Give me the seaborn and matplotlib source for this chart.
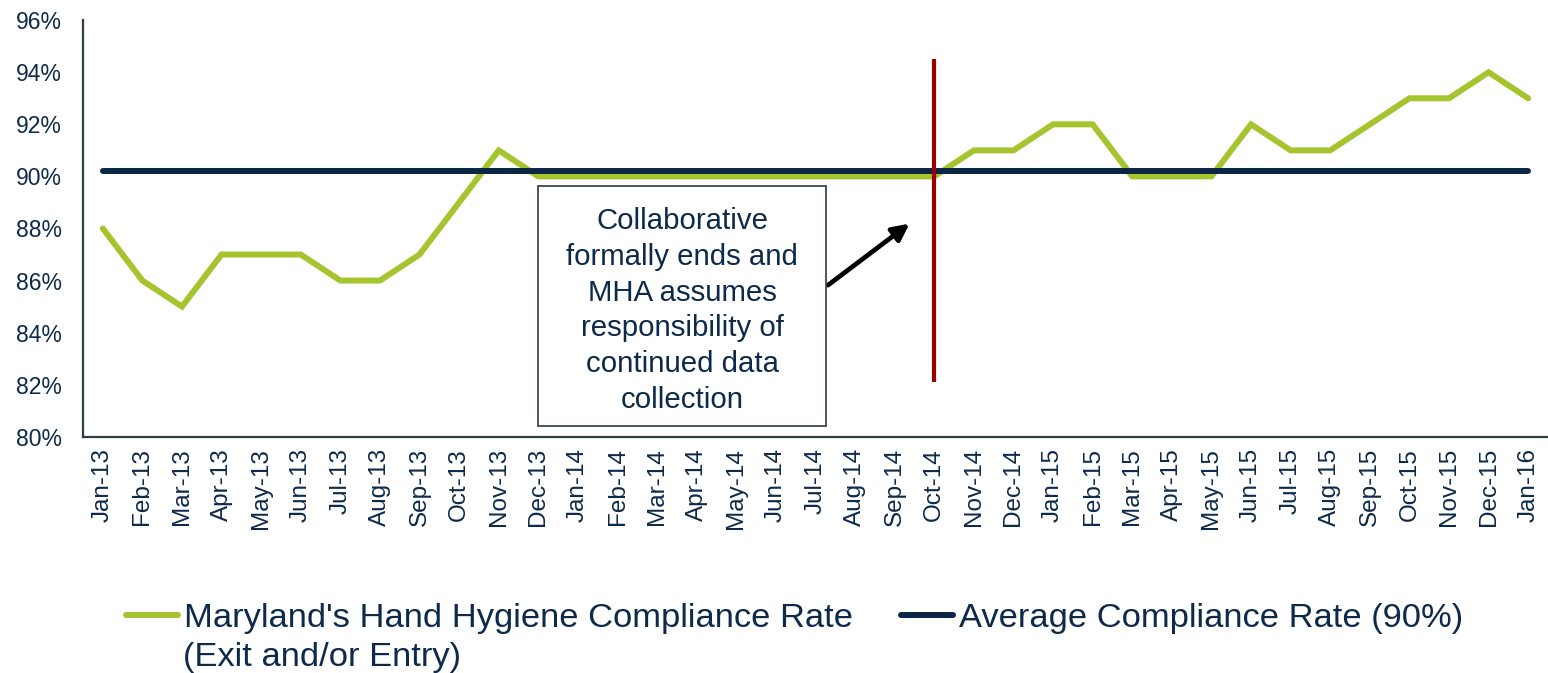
import numpy as np
import pandas as pd
import matplotlib
matplotlib.use('Agg')
import matplotlib.pyplot as plt
import seaborn as sns
from matplotlib.patches import Rectangle

months = ['Jan-13', 'Feb-13', 'Mar-13', 'Apr-13', 'May-13', 'Jun-13', 'Jul-13', 'Aug-13', 'Sep-13',
          'Oct-13', 'Nov-13', 'Dec-13', 'Jan-14', 'Feb-14', 'Mar-14', 'Apr-14', 'May-14', 'Jun-14',
          'Jul-14', 'Aug-14', 'Sep-14', 'Oct-14', 'Nov-14', 'Dec-14', 'Jan-15', 'Feb-15', 'Mar-15',
          'Apr-15', 'May-15', 'Jun-15', 'Jul-15', 'Aug-15', 'Sep-15', 'Oct-15', 'Nov-15', 'Dec-15',
          'Jan-16']
compliance = [88, 86, 85, 87, 87, 87, 86, 86, 87, 89, 91, 90, 90, 90, 90, 90, 90, 90,
              90, 90, 90, 90, 91, 91, 92, 92, 90, 90, 90, 92, 91, 91, 92, 93, 93, 94, 93]
avg_rate = 90.2
event_month = 'Oct-14'
event_span = (82.1, 94.5)

label_md = "Maryland's Hand Hygiene Compliance Rate"
label_md2 = '(Exit and/or Entry)'
label_avg = 'Average Compliance Rate (90%)'
note = 'Collaborative\nformally ends and\nMHA assumes\nresponsibility of\ncontinued data\ncollection'

GREEN = '#A5C42D'
NAVY = '#0B2545'
RED = '#990000'
TXT = '#0D2A4A'

sns.set_style('white')
plt.rcParams['font.family'] = ['Liberation Sans', 'DejaVu Sans']

df = pd.DataFrame({'month': months, 'rate': compliance, 'avg': [avg_rate] * len(months)})

fig = plt.figure(figsize=(15.48, 6.73), dpi=100)
ax = fig.add_axes([0.0536, 0.351, 0.9464, 0.619])

sns.lineplot(data=df, x='month', y='rate', ax=ax, color=GREEN, lw=4.3, sort=False,
             label=label_md, solid_capstyle='round', solid_joinstyle='miter')
sns.lineplot(data=df, x='month', y='avg', ax=ax, color=NAVY, lw=4.3, sort=False,
             label=label_avg, solid_capstyle='round')

ev = months.index(event_month)
ax.vlines(ev, event_span[0], event_span[1], color=RED, lw=3)

# annotation box
ax.add_patch(Rectangle((11.0, 80.4), 7.26, 9.23, fill=False, ec='#3A4A4A', lw=1.3, zorder=5))
ax.text(14.63, 84.85, note, ha='center', va='center', fontsize=21.2, color=TXT,
        linespacing=1.35, zorder=6)
ax.annotate('', xy=(20.43, 88.25), xytext=(18.26, 85.76),
            arrowprops=dict(arrowstyle='-|>,head_length=1.0,head_width=0.5', color='black', lw=3.4))

ax.set_xlim(-0.5, len(months) - 0.5)
ax.set_ylim(80, 96)
ax.set_yticks(np.arange(80, 97, 2))
ax.set_yticklabels([f'{v}%' for v in range(80, 97, 2)])
ax.set_xlabel('')
ax.set_ylabel('')
ax.tick_params(axis='x', labelrotation=90, labelsize=17.5, colors=TXT, length=0, pad=8)
ax.tick_params(axis='y', labelsize=16.5, colors=TXT, length=0, pad=15)
for s in ['top', 'right']:
    ax.spines[s].set_visible(False)
for s in ['left', 'bottom']:
    ax.spines[s].set_color('#2F3F3F')
    ax.spines[s].set_linewidth(1.6)

h, l = ax.get_legend_handles_labels()
ax.get_legend().remove()
leg = fig.legend(h, l, loc='center left', bbox_to_anchor=(0.066, 0.0815), ncol=2, frameon=False,
                 fontsize=24.8, handlelength=1.5, handletextpad=0.17, columnspacing=1.4,
                 borderpad=0.2)
for t in leg.get_texts():
    t.set_color(TXT)
fig.text(0.1182, 0.0225, label_md2, fontsize=24.8, color=TXT, ha='left', va='center')

fig.savefig('out.png', dpi=100)
